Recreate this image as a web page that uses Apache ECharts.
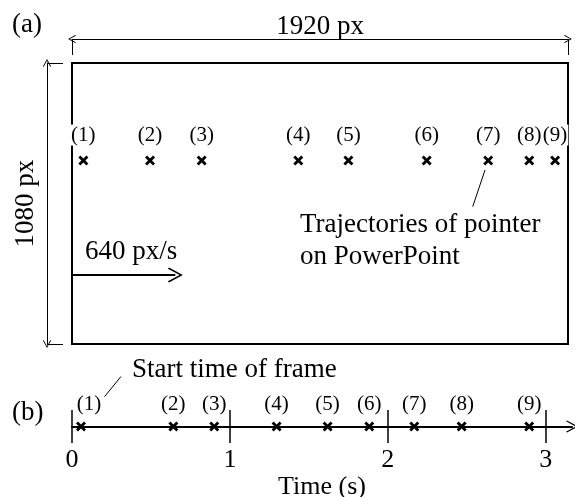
<!DOCTYPE html>
<html>
<head>
<meta charset="utf-8">
<script src="https://cdn.jsdelivr.net/npm/echarts@6/dist/echarts.min.js"></script>
<style>
  html, body { margin: 0; padding: 0; background: #fff; }
  #main { width: 575px; height: 497px; }
</style>
</head>
<body>
<div id="main"></div>
<script>
// frame labels, shared by both panels
var frameNames = ['(1)', '(2)', '(3)', '(4)', '(5)', '(6)', '(7)', '(8)', '(9)'];
// (a) pointer position on the slide for each frame (slide px)
var pointerX = [44, 302, 502, 876, 1070, 1373, 1611, 1770, 1870];
var pointerY = [375, 375, 375, 375, 375, 375, 375, 375, 375];
// (b) start time of each frame (s)
var startTimes = [0.057, 0.642, 0.901, 1.296, 1.619, 1.883, 2.168, 2.468, 2.896];
var timeMax = 3.167;
var slideW = 1920;
var slideH = 1080;
// 640 px/s speed arrow, drawn in slide px
var speedFrom = [0, 815];
var speedTo = [400, 815];

var serif = '"Liberation Serif", "Times New Roman", serif';
var chevron = 'path://M10,0 L20,18 L18.4,19.6 L10,4.2 L1.6,19.6 L0,18 Z';
var cross = 'path://M0,2 L2,0 L5,3 L8,0 L10,2 L7,5 L10,8 L8,10 L5,7 L2,10 L0,8 L3,5 Z';

var chartDom = document.getElementById('main');
var myChart = echarts.init(chartDom, null, { renderer: 'canvas' });

function txt(text, x, y, size) {
  return {
    type: 'text',
    x: x,
    y: y,
    style: {
      text: text,
      font: size + 'px ' + serif,
      fill: '#000',
      textAlign: 'left',
      textVerticalAlign: 'middle'
    }
  };
}

var option = {
  animation: false,
  backgroundColor: '#fff',
  textStyle: { fontFamily: serif },
  grid: [
    { left: 72, top: 63, width: 496, height: 281, show: true, borderColor: '#000', borderWidth: 2, backgroundColor: 'transparent', outerBoundsMode: 'none', containLabel: false },
    { left: 72, top: 410, width: 500, height: 33, show: false, outerBoundsMode: 'none', containLabel: false }
  ],
  xAxis: [
    {
      gridIndex: 0,
      type: 'value',
      position: 'top',
      offset: 24,
      min: 0,
      max: slideW,
      interval: slideW,
      name: slideW + ' px',
      nameLocation: 'middle',
      nameGap: -1,
      nameTextStyle: { fontSize: 27, fontFamily: serif, color: '#000' },
      axisLine: { show: true, onZero: false, symbol: [chevron, chevron], symbolSize: [8, 11], lineStyle: { color: '#000', width: 1 } },
      axisTick: { show: true, inside: true, length: 16, lineStyle: { color: '#000', width: 1 } },
      axisLabel: { show: false },
      splitLine: { show: false }
    },
    {
      gridIndex: 1,
      type: 'value',
      min: 0,
      max: timeMax,
      interval: 1,
      name: 'Time (s)',
      nameLocation: 'middle',
      nameGap: 30,
      nameTextStyle: { fontSize: 26, fontFamily: serif, color: '#000' },
      axisLine: { show: true, onZero: true, symbol: ['none', chevron], symbolSize: [13, 12], lineStyle: { color: '#000', width: 2 } },
      axisTick: { show: false },
      axisLabel: { show: true, margin: 4, fontSize: 26, fontFamily: serif, color: '#000', showMaxLabel: false },
      splitLine: { show: true, showMaxLine: false, lineStyle: { color: '#000', width: 1.5 } }
    }
  ],
  yAxis: [
    {
      gridIndex: 0,
      type: 'value',
      inverse: true,
      position: 'left',
      offset: 25,
      min: 0,
      max: slideH,
      interval: slideH,
      name: slideH + ' px',
      nameLocation: 'middle',
      nameGap: 8,
      nameTextStyle: { fontSize: 27, fontFamily: serif, color: '#000' },
      axisLine: { show: true, onZero: false, symbol: [chevron, chevron], symbolSize: [8, 10], lineStyle: { color: '#000', width: 1 } },
      axisTick: { show: true, inside: true, length: 16, lineStyle: { color: '#000', width: 1 } },
      axisLabel: { show: false },
      splitLine: { show: false }
    },
    {
      gridIndex: 1,
      type: 'value',
      min: -1,
      max: 1,
      axisLine: { show: false },
      axisTick: { show: false },
      axisLabel: { show: false },
      splitLine: { show: false }
    }
  ],
  series: [
    {
      name: 'pointer',
      type: 'scatter',
      xAxisIndex: 0,
      yAxisIndex: 0,
      symbol: cross,
      symbolSize: 10,
      itemStyle: { color: '#000', opacity: 1 },
      label: {
        show: true,
        position: 'top',
        distance: 10,
        formatter: '{b}',
        fontSize: 21,
        fontFamily: serif,
        color: '#000',
        backgroundColor: '#fff',
        padding: [0, 1, 0, 1]
      },
      data: pointerX.map(function (x, i) {
        return { name: frameNames[i], value: [x, pointerY[i]] };
      }),
      markLine: {
        silent: true,
        symbol: ['none', chevron],
        symbolSize: 15,
        label: { show: false },
        lineStyle: { color: '#000', width: 2, type: 'solid' },
        data: [[{ coord: speedFrom }, { coord: speedTo }]]
      }
    },
    {
      name: 'start time',
      type: 'scatter',
      xAxisIndex: 1,
      yAxisIndex: 1,
      symbol: cross,
      symbolSize: 10,
      itemStyle: { color: '#000', opacity: 1 },
      label: {
        show: true,
        position: 'top',
        distance: 7,
        formatter: '{b}',
        fontSize: 21,
        fontFamily: serif,
        color: '#000'
      },
      data: startTimes.map(function (t, i) {
        var d = { name: frameNames[i], value: [t, 0] };
        if (i === 0) d.label = { offset: [8, 0] };
        return d;
      })
    }
  ],
  graphic: [
    txt('(a)', 12, 25, 27),
    txt('(b)', 12, 413, 27),
    txt('640 px/s', 85, 252, 27),
    txt('Trajectories of pointer', 300, 225, 27),
    txt('on PowerPoint', 300, 257, 27),
    txt('Start time of frame', 132, 370, 27),
    { type: 'line', shape: { x1: 485, y1: 170, x2: 472.7, y2: 206.7 }, style: { stroke: '#000', lineWidth: 1 } },
    { type: 'line', shape: { x1: 104.5, y1: 396.7, x2: 121, y2: 376.5 }, style: { stroke: '#000', lineWidth: 1 } }
  ]
};

myChart.setOption(option, true);
</script>
</body>
</html>
